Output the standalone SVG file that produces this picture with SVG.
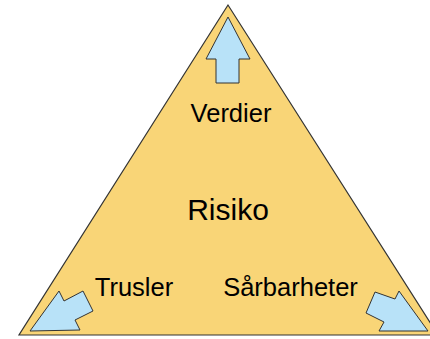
<svg xmlns="http://www.w3.org/2000/svg" width="430" height="339" viewBox="0 0 430 339">
<style>
.tri{fill:#F9D577;stroke:#333;stroke-width:1.2}
.arr{fill:#B8E2F8;stroke:#333;stroke-width:1}
text{font-family:"Liberation Sans",Arial,sans-serif;fill:#000;text-anchor:middle}
.s{font-size:25.5px}
.b{font-size:30px}
</style>
<rect width="430" height="339" fill="#fff"/>
<g id="triangle">
<polygon class="tri" points="228,5 19,335 438,335"/>
</g>
<g id="connectors">
<polygon id="arrow-up" class="arr" points="228,17 250,59 239,59 239,83 216,83 216,59 206,59"/>
<polygon id="arrow-left" class="arr" points="30,331 59,291 64,301 83,291 93,311 75,320 80,330"/>
<polygon id="arrow-right" class="arr" points="428,331 399,291 395,299 375,292 366,313 384,322 379,331"/>
</g>
<g id="verdier"><text class="s" x="231" y="122">Verdier</text></g>
<g id="risiko"><text class="b" x="228" y="220">Risiko</text></g>
<g id="trusler"><text class="s" x="134" y="296">Trusler</text></g>
<g id="sarbarheter"><text class="s" x="290.5" y="296">Sårbarheter</text></g>
</svg>
